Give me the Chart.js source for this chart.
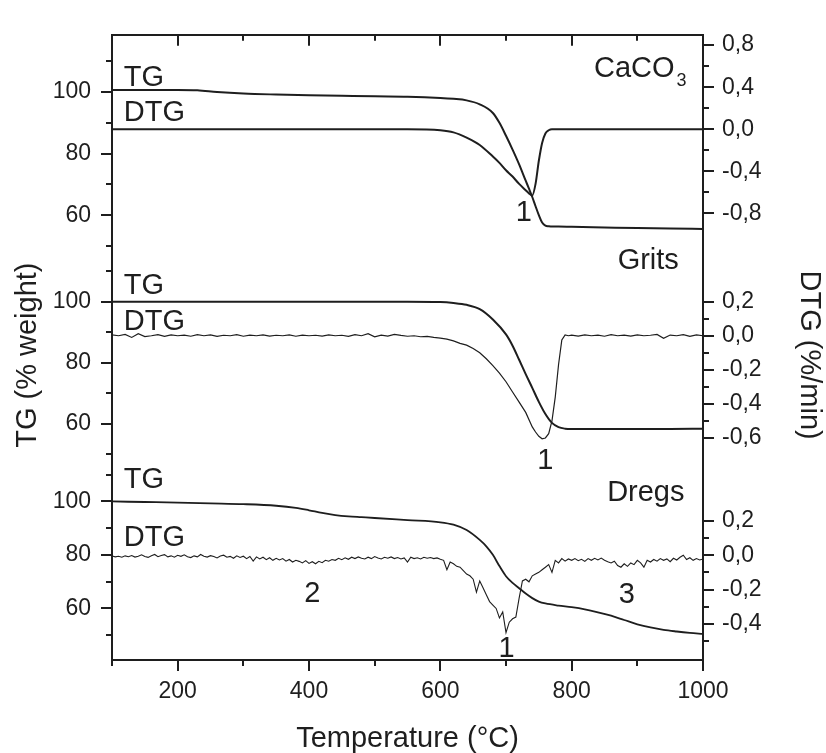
<!DOCTYPE html>
<html><head><meta charset="utf-8">
<script src="https://cdn.jsdelivr.net/npm/chart.js@4.4.1/dist/chart.umd.min.js"></script>
<style>html,body{margin:0;padding:0;background:#fff}canvas{display:block}</style>
</head><body>
<canvas id="c" width="826" height="753"></canvas>
<script>
// ---------- DATA ----------
const caco3Temp = [100,150,200,230,260,300,350,400,450,500,550,600,620,640,660,680,690,700,710,720,730,735,740,745,750,755,760,765,770,780,800,850,900,950,1000];
const caco3Tg   = [100.7,100.7,100.7,100.6,100.0,99.5,99.2,99.0,98.8,98.6,98.5,98.1,97.8,97.3,96.0,93.2,90.0,85.8,81.3,76.5,71.2,68.6,65.9,62.9,60.0,57.6,56.6,56.4,56.3,56.3,56.2,56.0,55.8,55.7,55.5];
const caco3Dtg  = [0,0,0,0,0,0,0,0,0,0,0,-0.01,-0.03,-0.08,-0.15,-0.26,-0.32,-0.39,-0.45,-0.52,-0.58,-0.61,-0.63,-0.52,-0.30,-0.13,-0.04,-0.01,0,0,0,0,0,0,0];

const gritsTgTemp = [100,200,300,400,500,550,600,620,640,660,680,700,710,720,730,740,750,760,770,780,790,800,850,900,950,1000];
const gritsTg     = [100,100,100,100,100,100,99.9,99.6,99.0,97.6,94.2,89.3,85.6,81.0,76.3,71.8,67.2,63.2,60.3,58.9,58.4,58.3,58.3,58.3,58.3,58.4];
const gritsDtgTemp = [100,110,120,130,140,150,160,170,180,190,200,210,220,230,240,250,260,270,280,290,300,310,320,330,340,350,360,370,380,390,400,410,420,430,440,450,460,470,480,490,500,510,520,530,540,550,560,570,580,590,600,610,620,630,640,650,660,670,680,690,700,710,720,730,740,745,750,755,760,765,770,775,780,785,790,795,800,810,820,830,840,850,860,870,880,890,900,910,920,930,940,950,960,970,980,990,1000];
const gritsDtg = [0.005,0.0,0.008,-0.01,0.012,-0.005,0.0,0.006,-0.004,0.005,
  0.0,0.004,-0.003,0.006,0.0,0.005,-0.004,0.003,0.0,0.006,
  -0.003,0.004,0.0,0.005,-0.002,0.003,0.0,0.005,-0.003,0.004,
  0.0,0.003,-0.002,0.005,0.0,0.003,-0.004,0.006,0.0,0.012,
  -0.006,0.004,-0.002,0.008,0.002,-0.003,0.0,-0.006,-0.004,-0.01,
  -0.014,-0.02,-0.03,-0.045,-0.055,-0.075,-0.1,-0.135,-0.175,-0.22,
  -0.27,-0.33,-0.39,-0.45,-0.535,
  -0.565,-0.59,-0.605,-0.6,-0.575,-0.5,-0.36,-0.17,-0.025,0.005,0.0,
  0.004,-0.002,0.005,0.0,0.004,-0.003,0.006,0.0,0.004,-0.002,0.005,0.0,0.003,0.008,-0.015,0.004,0.0,0.006,-0.004,0.005,0.0];

const dregsTgTemp = [100,150,200,250,300,350,380,400,420,440,460,480,500,550,600,620,640,660,670,680,690,700,710,720,730,740,750,760,780,800,820,840,860,880,900,920,940,960,980,1000];
const dregsTg     = [100,99.8,99.6,99.3,99.0,98.4,97.6,96.7,95.7,94.9,94.4,94.1,93.8,93.0,92.2,91.3,89.3,85.6,83.2,80.0,75.8,72.0,69.5,67.5,65.5,63.8,62.5,61.8,61.0,60.4,59.6,58.5,57.2,55.6,54.0,52.8,51.9,51.3,50.8,50.4];
const dregsDtgTemp = [100,105,110,115,120,125,130,135,140,145,150,155,160,165,170,175,180,185,190,195,
  200,205,210,215,220,225,230,235,240,245,250,255,260,265,270,275,280,285,290,295,
  300,305,310,315,320,325,330,335,340,345,350,355,360,365,370,375,380,385,390,395,
  400,405,410,415,420,425,430,435,440,445,450,455,460,465,470,475,480,485,490,495,
  500,505,510,515,520,525,530,535,540,545,550,555,560,565,570,575,580,585,590,595,
  600,605,610,615,620,625,630,635,640,645,650,655,660,665,670,675,680,685,690,695,
  700,705,710,715,720,725,730,735,740,745,750,755,760,765,770,775,780,785,790,795,
  800,805,810,815,820,825,830,835,840,845,850,855,860,865,870,875,880,885,890,895,
  900,905,910,915,920,925,930,935,940,945,950,955,960,965,970,975,980,985,990,995,1000];
const dregsDtg = [-0.005,-0.01,-0.006,-0.012,-0.004,-0.009,-0.002,-0.011,-0.006,0.002,-0.008,-0.013,-0.003,0.004,-0.009,-0.002,0.003,-0.01,-0.004,-0.012,
  -0.001,-0.007,0.002,-0.009,-0.014,-0.004,-0.01,0.004,-0.006,-0.011,-0.003,-0.008,-0.016,-0.005,0.0,-0.012,-0.007,-0.018,-0.004,-0.013,
  -0.006,-0.02,-0.008,-0.034,-0.01,-0.022,-0.012,-0.026,-0.015,-0.03,-0.018,-0.028,-0.02,-0.035,-0.025,-0.04,-0.03,-0.036,-0.045,-0.032,
  -0.048,-0.038,-0.05,-0.036,-0.044,-0.03,-0.035,-0.025,-0.03,-0.018,-0.026,-0.015,-0.024,-0.012,-0.02,-0.01,-0.018,-0.022,-0.012,-0.02,
  -0.008,-0.016,-0.022,-0.012,-0.018,-0.01,-0.02,-0.014,-0.022,-0.016,-0.04,-0.012,-0.02,-0.015,-0.022,-0.012,-0.018,-0.014,-0.02,-0.016,
  -0.024,-0.03,-0.085,-0.04,-0.05,-0.065,-0.07,-0.09,-0.11,-0.12,-0.14,-0.215,-0.15,-0.19,-0.23,-0.27,-0.29,-0.31,-0.365,-0.33,
  -0.45,-0.39,-0.37,-0.36,-0.25,-0.15,-0.14,-0.155,-0.12,-0.11,-0.1,-0.085,-0.07,-0.055,-0.1,-0.03,-0.045,-0.02,-0.035,-0.022,
  -0.03,-0.02,-0.032,-0.024,-0.036,-0.02,-0.03,-0.018,-0.028,-0.017,-0.03,-0.038,-0.045,-0.035,-0.06,-0.07,-0.05,-0.065,-0.045,-0.055,
  -0.03,-0.045,-0.07,-0.03,-0.04,-0.025,-0.035,-0.02,-0.03,-0.022,-0.038,-0.018,-0.028,-0.012,0.0,-0.025,-0.015,-0.03,-0.02,-0.028,
  -0.022];

// tick values
const xMajorTicks = [200,400,600,800,1000];
const xMinorTicks = [100,300,500,700,900];
const tgMajorTicks = [60,80,100];
const tgMinorTicks = [50,70,90,110];
const caco3DtgMajor = [-0.8,-0.4,0,0.4,0.8];
const caco3DtgMinor = [-0.6,-0.2,0.2,0.6];
const gritsDtgMajor = [-0.6,-0.4,-0.2,0,0.2];
const gritsDtgMinor = [-0.5,-0.3,-0.1,0.1];
const dregsDtgMajor = [-0.4,-0.2,0,0.2];
const dregsDtgMinor = [-0.5,-0.3,-0.1,0.1];

// ---------- STYLE ----------
const FONT = "'Liberation Sans', Arial, Helvetica, sans-serif";
const INK = '#1e1e1e';
const TICK_SIZE = 23;
const TEXT_SIZE = 29;
Chart.defaults.font.family = FONT;
Chart.defaults.color = INK;

const pts = (t, v) => t.map((x, i) => ({x, y: v[i]}));
const fmtInt = v => String(v);
const fmtComma = v => Number(v).toFixed(1).replace('.', ',');

function yScale(pos, min, max, weight, stackW, major, fmt, title) {
  return {
    type: 'linear', position: pos, stack: 'panels', stackWeight: stackW, weight,
    min, max,
    grid: {display: false, drawTicks: false},
    border: {display: true, color: INK, width: 2},
    ticks: {font: {size: TICK_SIZE}, color: INK, padding: pos === 'left' ? 21 : 19, autoSkip: false, callback: fmt},
    afterBuildTicks: s => { s.ticks = major.map(v => ({value: v})); },
    afterFit: s => { s.width = pos === 'left' ? 112 : 123; },
    title: title ? {display: true, text: title, color: INK, font: {size: TEXT_SIZE, lineHeight: 1},
      padding: {top: pos === 'left' ? 13 : 3, bottom: 0}} : {display: false}
  };
}

const notes = [
  {text: 'TG', axis: 'yA', t: 118, v: 102.1, align: 'left'},
  {text: 'DTG', axis: 'yA', t: 118, v: 90.5, align: 'left'},
  {text: 'CaCO', sub: '3', axis: 'yA', t: 834, v: 105.0, align: 'left'},
  {text: '1', axis: 'yA', t: 727, v: 58.0, align: 'center'},
  {text: 'TG', axis: 'yB', t: 118, v: 102.6, align: 'left'},
  {text: 'DTG', axis: 'yB', t: 118, v: 90.8, align: 'left'},
  {text: 'Grits', axis: 'yB', t: 870, v: 110.9, align: 'left'},
  {text: '1', axis: 'yB', t: 760, v: 45.2, align: 'center'},
  {text: 'TG', axis: 'yC', t: 118, v: 105.0, align: 'left'},
  {text: 'DTG', axis: 'yC', t: 118, v: 83.2, align: 'left'},
  {text: 'Dregs', axis: 'yC', t: 854, v: 100.0, align: 'left'},
  {text: '2', axis: 'yC', t: 405, v: 62.4, align: 'center'},
  {text: '3', axis: 'yC', t: 884, v: 61.8, align: 'center'},
  {text: '1', axis: 'yC', t: 701, v: 41.8, align: 'center'}
];

const tickSets = [
  {id: 'yA', side: 'left', major: tgMajorTicks, minor: tgMinorTicks},
  {id: 'yB', side: 'left', major: tgMajorTicks, minor: tgMinorTicks},
  {id: 'yC', side: 'left', major: tgMajorTicks, minor: tgMinorTicks},
  {id: 'rA', side: 'right', major: caco3DtgMajor, minor: caco3DtgMinor},
  {id: 'rB', side: 'right', major: gritsDtgMajor, minor: gritsDtgMinor},
  {id: 'rC', side: 'right', major: dregsDtgMajor, minor: dregsDtgMinor},
  {id: 'x', side: 'bottom', major: xMajorTicks, minor: xMinorTicks},
  {id: 'x2', side: 'top', major: xMajorTicks, minor: xMinorTicks}
];

const decor = {
  id: 'decor',
  afterDraw(chart) {
    const ctx = chart.ctx, S = chart.scales, ca = chart.chartArea;
    const MAJ = 11, MIN = 6;
    ctx.save();
    ctx.strokeStyle = INK; ctx.lineWidth = 2; ctx.lineCap = 'butt';
    for (const ts of tickSets) {
      const sc = S[ts.id];
      for (const [list, len] of [[ts.major, MAJ], [ts.minor, MIN]]) {
        for (const v of list) {
          ctx.beginPath();
          if (ts.side === 'left' || ts.side === 'right') {
            const y = Math.round(sc.getPixelForValue(v));
            const e = ts.side === 'left' ? ca.left : ca.right;
            const d = ts.side === 'left' ? -1 : 1;
            ctx.moveTo(e, y); ctx.lineTo(e + d * len, y);
          } else {
            const x = Math.round(sc.getPixelForValue(v));
            const e = ts.side === 'bottom' ? ca.bottom : ca.top;
            ctx.moveTo(x, e); ctx.lineTo(x, e + len);
          }
          ctx.stroke();
        }
      }
    }
    ctx.fillStyle = INK;
    ctx.textBaseline = 'alphabetic';
    for (const n of notes) {
      const x = S.x.getPixelForValue(n.t);
      const y = S[n.axis].getPixelForValue(n.v);
      ctx.font = `${TEXT_SIZE}px ${FONT}`;
      ctx.textAlign = n.align;
      ctx.fillText(n.text, x, y);
      if (n.sub) {
        const w = ctx.measureText(n.text).width;
        ctx.font = `18px ${FONT}`;
        ctx.textAlign = 'left';
        ctx.fillText(n.sub, x + w + 2, y + 9);
      }
    }
    ctx.restore();
  }
};

const lineDs = (data, yAxisID, width, smooth) => ({
  data, yAxisID, xAxisID: 'x', borderColor: INK, borderWidth: width,
  pointRadius: 0, fill: false,
  cubicInterpolationMode: smooth ? 'monotone' : 'default', tension: 0
});

new Chart(document.getElementById('c'), {
  type: 'line',
  data: {datasets: [
    lineDs(pts(caco3Temp, caco3Tg), 'yA', 2, true),
    lineDs(pts(caco3Temp, caco3Dtg), 'rA', 2, true),
    lineDs(pts(gritsTgTemp, gritsTg), 'yB', 2, true),
    lineDs(pts(gritsDtgTemp, gritsDtg), 'rB', 1.2, false),
    lineDs(pts(dregsTgTemp, dregsTg), 'yC', 1.8, true),
    lineDs(pts(dregsDtgTemp, dregsDtg), 'rC', 1.1, false)
  ]},
  options: {
    responsive: false, animation: false, events: [],
    layout: {padding: 0},
    plugins: {legend: {display: false}, tooltip: {enabled: false}},
    scales: {
      x: {
        type: 'linear', position: 'bottom', min: 100, max: 1000,
        grid: {display: false, drawTicks: false},
        border: {display: true, color: INK, width: 2},
        ticks: {font: {size: TICK_SIZE}, color: INK, padding: 18, autoSkip: false, maxRotation: 0, callback: fmtInt},
        afterBuildTicks: s => { s.ticks = xMajorTicks.map(v => ({value: v})); },
        afterFit: s => { s.height = 93; },
        title: {display: true, text: 'Temperature (°C)', color: INK, font: {size: TEXT_SIZE, lineHeight: 1}, padding: {top: 0, bottom: 0}}
      },
      x2: {
        type: 'linear', position: 'top', min: 100, max: 1000,
        grid: {display: false, drawTicks: false},
        border: {display: true, color: INK, width: 2},
        ticks: {display: false},
        afterFit: s => { s.height = 16; }
      },
      yA: yScale('left', 47.95, 118.6, 3, 224, tgMajorTicks, fmtInt, null),
      yB: yScale('left', 48.77, 116.23, 2, 212, tgMajorTicks, fmtInt, 'TG (% weight)'),
      yC: yScale('left', 40.62, 116.25, 1, 208, tgMajorTicks, fmtInt, null),
      rA: yScale('right', -1.17, 0.898, 1, 224, caco3DtgMajor, fmtComma, null),
      rB: yScale('right', -0.718, 0.49, 2, 212, gritsDtgMajor, fmtComma, 'DTG (%/min)'),
      rC: yScale('right', -0.61, 0.565, 3, 208, dregsDtgMajor, fmtComma, null)
    }
  },
  plugins: [decor]
});
</script>
</body></html>
